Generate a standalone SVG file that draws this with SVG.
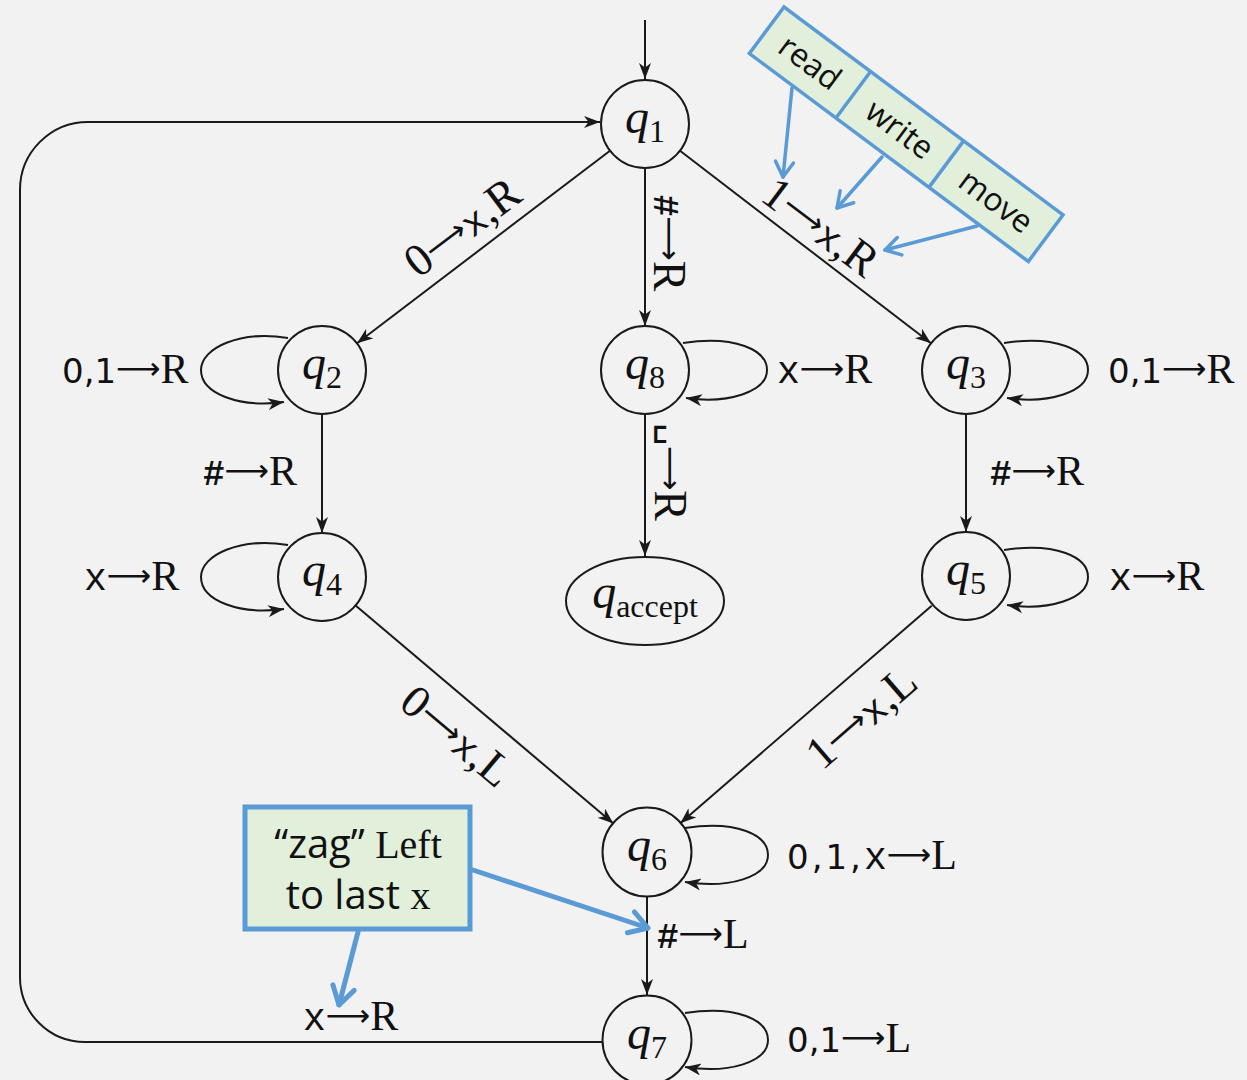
<svg xmlns="http://www.w3.org/2000/svg" width="1247" height="1080" viewBox="0 0 1247 1080">
<style>
.bg{fill:#f2f2f2}
.node{fill:#f2f2f2;stroke:#1a1a1a;stroke-width:2}
.edge{fill:none;stroke:#1a1a1a;stroke-width:2}
.qn{font-family:"Liberation Serif",serif;font-size:48px;fill:#111}
.qi{font-style:italic}
.sub{font-size:32px}
.lbl{font-family:"Liberation Serif",serif;font-size:42px;fill:#111}
.rl{font-family:"Liberation Serif",serif;font-size:46px;fill:#111}
.dg{font-family:"DejaVu Sans",sans-serif;font-size:34px}
.tt{font-family:"Liberation Mono",monospace;font-size:38px}
.ttb{font-family:"Liberation Mono",monospace;font-size:36px;font-weight:bold}
.ar{font-family:"DejaVu Sans",sans-serif;font-size:31px}
.box{fill:#e2efda;stroke:#5b9bd5}
.call{fill:none;stroke:#5b9bd5;stroke-linecap:round;stroke-linejoin:round}
.ct{font-family:"Open Sans","Noto Sans",sans-serif;fill:#111}
</style>
<defs>
<marker id="ah" viewBox="0 0 16 12" refX="16" refY="6" markerWidth="16" markerHeight="12" markerUnits="userSpaceOnUse" orient="auto">
<path d="M0,0 L16,6 L0,12 L4.5,6 Z" fill="#1a1a1a"/>
</marker>
<marker id="bh" viewBox="-18 -12 20 24" refX="0" refY="0" markerWidth="20" markerHeight="24" markerUnits="userSpaceOnUse" orient="auto">
<path d="M-15,-9 L0,0 L-15,9" fill="none" stroke="#5b9bd5" stroke-width="3.5" stroke-linecap="round" stroke-linejoin="round"/>
</marker>
<marker id="bh2" viewBox="-22 -14 24 28" refX="0" refY="0" markerWidth="24" markerHeight="28" markerUnits="userSpaceOnUse" orient="auto">
<path d="M-18,-11 L0,0 L-18,11" fill="none" stroke="#5b9bd5" stroke-width="5" stroke-linecap="round" stroke-linejoin="round"/>
</marker>
</defs>
<rect class="bg" x="0" y="0" width="1247" height="1080"/>

<g id="connectors">
<path class="edge" d="M645,20 L645,79" marker-end="url(#ah)"/>
<path class="edge" d="M610,150.7 L357,343.3" marker-end="url(#ah)"/>
<path class="edge" d="M645,168 L645,326" marker-end="url(#ah)"/>
<path class="edge" d="M680,150.8 L931,343.2" marker-end="url(#ah)"/>
<path class="edge" d="M288,338 C240,330 201,348 201,370 C201,394 240,408 284,402" marker-end="url(#ah)"/>
<path class="edge" d="M683,343 C735,335 767,350 767,370 C767,392 728,404 686,398" marker-end="url(#ah)"/>
<path class="edge" d="M1004,343 C1056,335 1088,350 1088,370 C1088,392 1049,404 1007,398" marker-end="url(#ah)"/>
<path class="edge" d="M322,414 L322,533" marker-end="url(#ah)"/>
<path class="edge" d="M645,414 L645,556" marker-end="url(#ah)"/>
<path class="edge" d="M966,414 L966,532" marker-end="url(#ah)"/>
<path class="edge" d="M288,545 C240,537 201,555 201,577 C201,601 240,615 284,609" marker-end="url(#ah)"/>
<path class="edge" d="M1004,550 C1056,542 1088,557 1088,577 C1088,599 1049,611 1007,605" marker-end="url(#ah)"/>
<path class="edge" d="M355.6,605.4 L613.4,823.6" marker-end="url(#ah)"/>
<path class="edge" d="M931.7,605.8 L680.3,823.2" marker-end="url(#ah)"/>
<path class="edge" d="M685,828 C737,820 768,835 768,855 C768,877 729,889 685,882" marker-end="url(#ah)"/>
<path class="edge" d="M647,897 L647,995" marker-end="url(#ah)"/>
<path class="edge" d="M685,1013 C737,1005 768,1020 768,1040 C768,1062 729,1074 685,1067" marker-end="url(#ah)"/>
<path class="edge" d="M602,1042 L85,1042 A65,65 0 0 1 20,977 L20,190 A68,68 0 0 1 88,122 L600,122" marker-end="url(#ah)"/>

<text class="lbl" x="62" y="383"><tspan class="dg">0,1</tspan><tspan class="ar" dy="-4">⟶</tspan><tspan dy="4">R</tspan></text>
<text class="lbl" x="203" y="485"><tspan class="ttb">#</tspan><tspan class="ar" dy="-4">⟶</tspan><tspan dy="4">R</tspan></text>
<text class="lbl" x="84" y="590"><tspan class="tt">x</tspan><tspan class="ar" dy="-4">⟶</tspan><tspan dy="4">R</tspan></text>
<text class="lbl" x="777" y="383"><tspan class="tt">x</tspan><tspan class="ar" dy="-4">⟶</tspan><tspan dy="4">R</tspan></text>
<text class="lbl" x="1108" y="383"><tspan class="dg">0,1</tspan><tspan class="ar" dy="-4">⟶</tspan><tspan dy="4">R</tspan></text>
<text class="lbl" x="990" y="485"><tspan class="ttb">#</tspan><tspan class="ar" dy="-4">⟶</tspan><tspan dy="4">R</tspan></text>
<text class="lbl" x="1109" y="590"><tspan class="tt">x</tspan><tspan class="ar" dy="-4">⟶</tspan><tspan dy="4">R</tspan></text>
<text class="lbl" x="787" y="869"><tspan class="dg" letter-spacing="3">0,1,</tspan><tspan class="tt">x</tspan><tspan class="ar" dy="-4">⟶</tspan><tspan dy="4">L</tspan></text>
<text class="lbl" x="657" y="948"><tspan class="ttb">#</tspan><tspan class="ar" dy="-4">⟶</tspan><tspan dy="4">L</tspan></text>
<text class="lbl" x="787" y="1052"><tspan class="dg">0,1</tspan><tspan class="ar" dy="-4">⟶</tspan><tspan dy="4">L</tspan></text>
<text class="lbl" x="303" y="1030"><tspan class="tt">x</tspan><tspan class="ar" dy="-4">⟶</tspan><tspan dy="4">R</tspan></text>

<text class="rl" transform="translate(463,228) rotate(-37)" text-anchor="middle" y="14">0<tspan class="ar" dy="-5">⟶</tspan><tspan class="tt" dy="5" font-size="42">x</tspan>,R</text>
<text class="rl" transform="translate(820,228) rotate(37)" text-anchor="middle" y="14">1<tspan class="ar" dy="-5">⟶</tspan><tspan class="tt" dy="5" font-size="42">x</tspan>,R</text>
<text class="rl" transform="translate(456,737) rotate(40)" text-anchor="middle" y="14">0<tspan class="ar" dy="-5">⟶</tspan><tspan class="tt" dy="5" font-size="42">x</tspan>,L</text>
<text class="rl" transform="translate(862,718) rotate(-41)" text-anchor="middle" y="14">1<tspan class="ar" dy="-5">⟶</tspan><tspan class="tt" dy="5" font-size="42">x</tspan>,L</text>
<text class="rl" transform="translate(667,243) rotate(90)" text-anchor="middle" y="13"><tspan class="ttb" font-size="40">#</tspan><tspan class="ar" dy="-5">⟶</tspan><tspan dy="5">R</tspan></text>
<text class="rl" transform="translate(668,472) rotate(90)" text-anchor="middle" y="13"><tspan class="tt" font-size="42" dy="-8">␣</tspan><tspan class="ar" dy="3">⟶</tspan><tspan dy="5">R</tspan></text>
</g>

<g id="q1"><circle class="node" cx="645" cy="124" r="44"/><text class="qn" x="645" y="133" text-anchor="middle"><tspan class="qi">q</tspan><tspan class="sub" dy="9">1</tspan></text></g>
<g id="q2"><circle class="node" cx="322" cy="370" r="44"/><text class="qn" x="322" y="379" text-anchor="middle"><tspan class="qi">q</tspan><tspan class="sub" dy="9">2</tspan></text></g>
<g id="q8"><circle class="node" cx="645" cy="370" r="44"/><text class="qn" x="645" y="379" text-anchor="middle"><tspan class="qi">q</tspan><tspan class="sub" dy="9">8</tspan></text></g>
<g id="q3"><circle class="node" cx="966" cy="370" r="44"/><text class="qn" x="966" y="379" text-anchor="middle"><tspan class="qi">q</tspan><tspan class="sub" dy="9">3</tspan></text></g>
<g id="q4"><circle class="node" cx="322" cy="577" r="44"/><text class="qn" x="322" y="586" text-anchor="middle"><tspan class="qi">q</tspan><tspan class="sub" dy="9">4</tspan></text></g>
<g id="q5"><circle class="node" cx="966" cy="576" r="44"/><text class="qn" x="966" y="585" text-anchor="middle"><tspan class="qi">q</tspan><tspan class="sub" dy="9">5</tspan></text></g>
<g id="qaccept"><ellipse class="node" cx="645" cy="601" rx="79" ry="44"/><text class="qn" x="645" y="608" text-anchor="middle"><tspan class="qi">q</tspan><tspan class="sub" dy="9">accept</tspan></text></g>
<g id="q6"><circle class="node" cx="647" cy="852" r="44.5"/><text class="qn" x="647" y="861" text-anchor="middle"><tspan class="qi">q</tspan><tspan class="sub" dy="9">6</tspan></text></g>
<g id="q7"><circle class="node" cx="647" cy="1040" r="44.5"/><text class="qn" x="647" y="1049" text-anchor="middle"><tspan class="qi">q</tspan><tspan class="sub" dy="9">7</tspan></text></g>

<g id="tape">
<g transform="translate(784,7) rotate(36.7)">
<rect class="box" x="0" y="0" width="348" height="58" stroke-width="3.5"/>
<line x1="108" y1="0" x2="108" y2="58" stroke="#5b9bd5" stroke-width="3.5"/>
<line x1="224" y1="0" x2="224" y2="58" stroke="#5b9bd5" stroke-width="3.5"/>
<text class="ct" x="54" y="40" font-size="32" text-anchor="middle">read</text>
<text class="ct" x="166" y="40" font-size="32" text-anchor="middle">write</text>
<text class="ct" x="286" y="40" font-size="32" text-anchor="middle">move</text>
</g>
<path class="call" stroke-width="3.5" d="M792,88 L783,177" marker-end="url(#bh)"/>
<path class="call" stroke-width="3.5" d="M882,157 L837,208" marker-end="url(#bh)"/>
<path class="call" stroke-width="3.5" d="M977,226 L885,250" marker-end="url(#bh)"/>
</g>

<g id="zag">
<rect class="box" x="245" y="807" width="225" height="122" stroke-width="5"/>
<text class="ct" x="358" y="858" font-size="40" text-anchor="middle">“zag” <tspan style="font-family:'Liberation Serif',serif">Left</tspan></text>
<text class="ct" x="358" y="909" font-size="40" text-anchor="middle">to last <tspan style="font-family:'Liberation Serif',serif" font-size="40">x</tspan></text>
<path class="call" stroke-width="5" d="M473,870 L648,928" marker-end="url(#bh2)"/>
<path class="call" stroke-width="5" d="M358,932 L339,1005" marker-end="url(#bh2)"/>
</g>
</svg>
